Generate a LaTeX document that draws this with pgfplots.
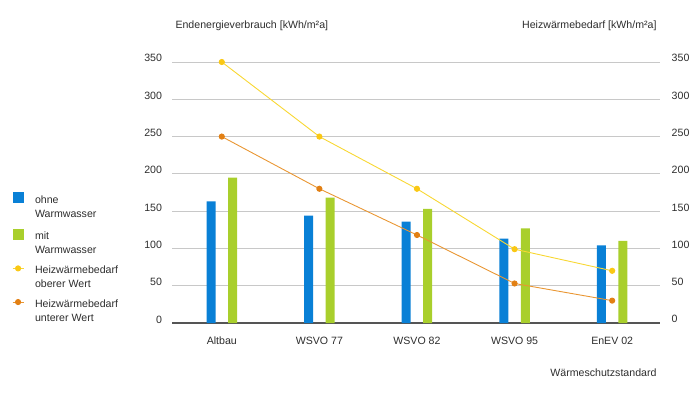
\documentclass[border=0pt]{standalone}
\usepackage{fontspec}
\setmainfont{Liberation Sans}
\usepackage{pgfplots}
\pgfplotsset{compat=1.18}
\definecolor{cblue}{RGB}{9,128,214}
\definecolor{cgreen}{RGB}{169,207,44}
\definecolor{cyell}{RGB}{248,215,50}
\definecolor{cyellm}{RGB}{250,200,20}
\definecolor{corng}{RGB}{233,150,50}
\definecolor{corngm}{RGB}{226,128,20}
\definecolor{cgrid}{RGB}{200,200,200}
\definecolor{cdark}{RGB}{85,85,85}
\definecolor{ctext}{RGB}{45,45,45}
\newcommand{\cf}{\fontsize{10.6}{14}\selectfont}

\begin{document}
\begin{tikzpicture}[x=1pt,y=1pt]
\begin{axis}[
  at={(172,73)}, anchor=south west,
  scale only axis, width=488pt, height=261pt,
  xmin=-0.51, xmax=4.49, ymin=0, ymax=350,
  clip=false,
  axis line style={draw=none},
  major tick length=0pt,
  xtick={0,...,4},
  xticklabels={Altbau, WSVO 77, WSVO 82, WSVO 95, EnEV 02},
  ytick={0,50,...,350},
  ymajorgrids,
  grid style={color=cgrid, line width=0.9pt},
  extra y ticks={0}, extra y tick labels={},
  extra y tick style={grid style={color=cdark, line width=1.6pt}},
  tick label style={font=\cf, text=ctext},
  /pgf/number format/assume math mode=true,
  xticklabel style={anchor=center, yshift=-18pt},
  yticklabel style={anchor=base east, xshift=-6.5pt},
  xlabel={Wärmeschutzstandard},
  every axis x label/.style={at={(rel axis cs:1,0)}, anchor=east, yshift=-50pt, font=\cf, text=ctext},
  ylabel={Endenergieverbrauch [kWh/m²a]},
  every axis y label/.style={at={(rel axis cs:0,1)}, anchor=west, yshift=36pt, font=\cf, text=ctext},
  ybar=12.5pt, bar width=9pt,
  legend cell align=left,
  legend style={at={(axis description cs:-0.328,0.502)}, anchor=north west,
    draw=none, fill=none, inner sep=0pt, font=\cf, text=ctext,
    nodes={align=left, inner sep=0pt}, row sep=10pt, column sep=11pt},
]
\coordinate (O) at (rel axis cs:0,0);
\addplot[draw=none, fill=cblue,
  legend image code/.code={\fill[cblue] (0pt,4pt) rectangle (11pt,15pt);}]
  coordinates {(0,163) (1,144) (2,136) (3,113) (4,104)};
\addlegendentry{ohne\\Warmwasser}
\addplot[draw=none, fill=cgreen,
  legend image code/.code={\fill[cgreen] (0pt,4pt) rectangle (11pt,15pt);}]
  coordinates {(0,195) (1,168) (2,153) (3,127) (4,110)};
\addlegendentry{mit\\Warmwasser}
\addplot[sharp plot, color=cyell, line width=0.9pt, mark=*, mark size=2.6pt,
  mark options={fill=cyellm, draw=cyellm},
  legend image code/.code={\draw[cyell, line width=0.9pt] (0pt,9pt) -- (11pt,9pt); \fill[cyellm] (5.5pt,9pt) circle (2.6pt);}]
  coordinates {(0,350) (1,250) (2,180) (3,99) (4,70)};
\addlegendentry{Heizwärmebedarf\\oberer Wert}
\addplot[sharp plot, color=corng, line width=0.9pt, mark=*, mark size=2.6pt,
  mark options={fill=corngm, draw=corngm},
  legend image code/.code={\draw[corng, line width=0.9pt] (0pt,9pt) -- (11pt,9pt); \fill[corngm] (5.5pt,9pt) circle (2.6pt);}]
  coordinates {(0,250) (1,180) (2,118) (3,53) (4,30)};
\addlegendentry{Heizwärmebedarf\\unterer Wert}
\end{axis}
\begin{axis}[
  at={(172,73)}, anchor=south west,
  scale only axis, width=488pt, height=261pt,
  xmin=-0.51, xmax=4.49, ymin=0, ymax=350,
  axis line style={draw=none},
  major tick length=0pt,
  xtick=\empty,
  ytick={0,50,...,350},
  yticklabel pos=right,
  tick label style={font=\cf, text=ctext},
  /pgf/number format/assume math mode=true,
  yticklabel style={anchor=base west, xshift=8.2pt},
  ylabel={Heizwärmebedarf [kWh/m²a]},
  every axis y label/.style={at={(rel axis cs:1,1)}, anchor=east, yshift=36pt, font=\cf, text=ctext},
]
\end{axis}
\pgfresetboundingbox
\path[use as bounding box] (O) ++(-172,-73) rectangle ++(700,396);
\end{tikzpicture}
\end{document}
